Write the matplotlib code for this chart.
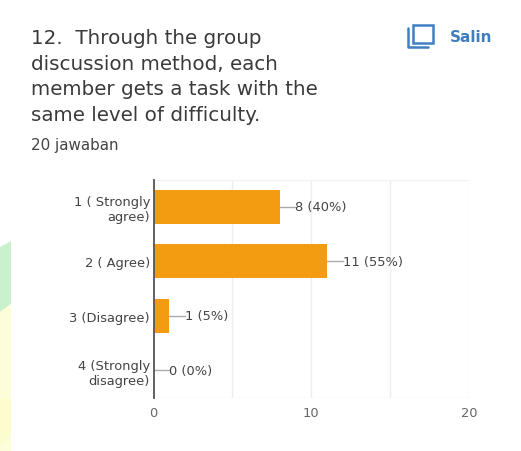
import matplotlib
matplotlib.use('Agg')
import matplotlib.pyplot as plt
from matplotlib.patches import Polygon, Rectangle

categories = ['1 ( Strongly\nagree)', '2 ( Agree)', '3 (Disagree)', '4 (Strongly\ndisagree)']
counts = [8, 11, 1, 0]
percents = [40, 55, 5, 0]
x_ticks = [0, 10, 20]
grid_lines = [5, 10, 15, 20]

title_lines = ['12.  Through the group', 'discussion method, each',
               'member gets a task with the', 'same level of difficulty.']

W, H = 521, 452
plt.rcParams['font.family'] = ['DejaVu Sans']

fig = plt.figure(figsize=(W / 100, H / 100), dpi=100, facecolor='white')

# pixel-space overlay for header text and the tinted strip on the left
bg = fig.add_axes([0, 0, 1, 1])
bg.set_xlim(0, W)
bg.set_ylim(H, 0)
bg.axis('off')
bg.add_patch(Polygon([(0, 248), (11, 242), (11, 305), (0, 313)], fc='#c9f1cd', ec='none'))
bg.add_patch(Polygon([(0, 313), (11, 305), (11, 452), (0, 452)], fc='#fdfdd9', ec='none'))
bg.add_patch(Polygon([(0, 400), (11, 400), (11, 434), (0, 446)], fc='#fdfccf', ec='none'))

for i, line in enumerate(title_lines):
    bg.text(31, 38.5 + i * 25.7, line, fontsize=14.35, color='#3a3a3a', va='center', ha='left')
bg.text(31, 145.5, '20 jawaban', fontsize=10.9, color='#444444', va='center', ha='left')
bg.text(449.5, 37, 'Salin', fontsize=11, color='#3f7fbf', va='center', ha='left', fontweight='bold')

# copy icon
bg.add_patch(Rectangle((413, 25.5), 20, 18.5, fc='none', ec='#3f7fc4', lw=1.8))
bg.plot([408, 408, 428], [29, 47.5, 47.5], color='#3f7fc4', lw=1.8, solid_capstyle='round')

left, right, top, bottom = 153.5, 469, 180.5, 398.7
ax = fig.add_axes([left / W, 1 - bottom / H, (right - left) / W, (bottom - top) / H])
ax.patch.set_alpha(0)
ypos = list(range(len(categories)))
ax.barh(ypos, counts, height=0.62, color='#f39c12', zorder=3)
ax.set_xlim(0, 20)
ax.set_ylim(3.5, -0.5)

ax.set_xticks(x_ticks)
ax.set_xticklabels([str(t) for t in x_ticks], fontsize=9.4, color='#666666')
ax.set_yticks(ypos)
ax.set_yticklabels(categories, fontsize=9.4, color='#444444', linespacing=1.22)
ax.tick_params(length=0)
ax.tick_params(axis='x', pad=6)
ax.tick_params(axis='y', pad=2.5)

for v in grid_lines:
    ax.axvline(v, color='#eeeeee', lw=1, zorder=1)
ax.axhline(-0.5, color='#f2f2f2', lw=1, zorder=1)
ax.axhline(3.5, color='#eeeeee', lw=1, zorder=1)

for s in ['top', 'right', 'bottom']:
    ax.spines[s].set_visible(False)
ax.spines['left'].set_color('#555555')
ax.spines['left'].set_linewidth(1.3)
ax.spines['left'].set_zorder(4)

# value labels with a short leader line from the bar end
for y, c, p in zip(ypos, counts, percents):
    ax.plot([c, c + 1.0], [y, y], color='#aaaaaa', lw=1, zorder=2)
    ax.text(c + 1.0, y, f'{c} ({p}%)', fontsize=9.4, color='#444444', va='center', ha='left', zorder=5)

fig.savefig('out.png', dpi=100)
